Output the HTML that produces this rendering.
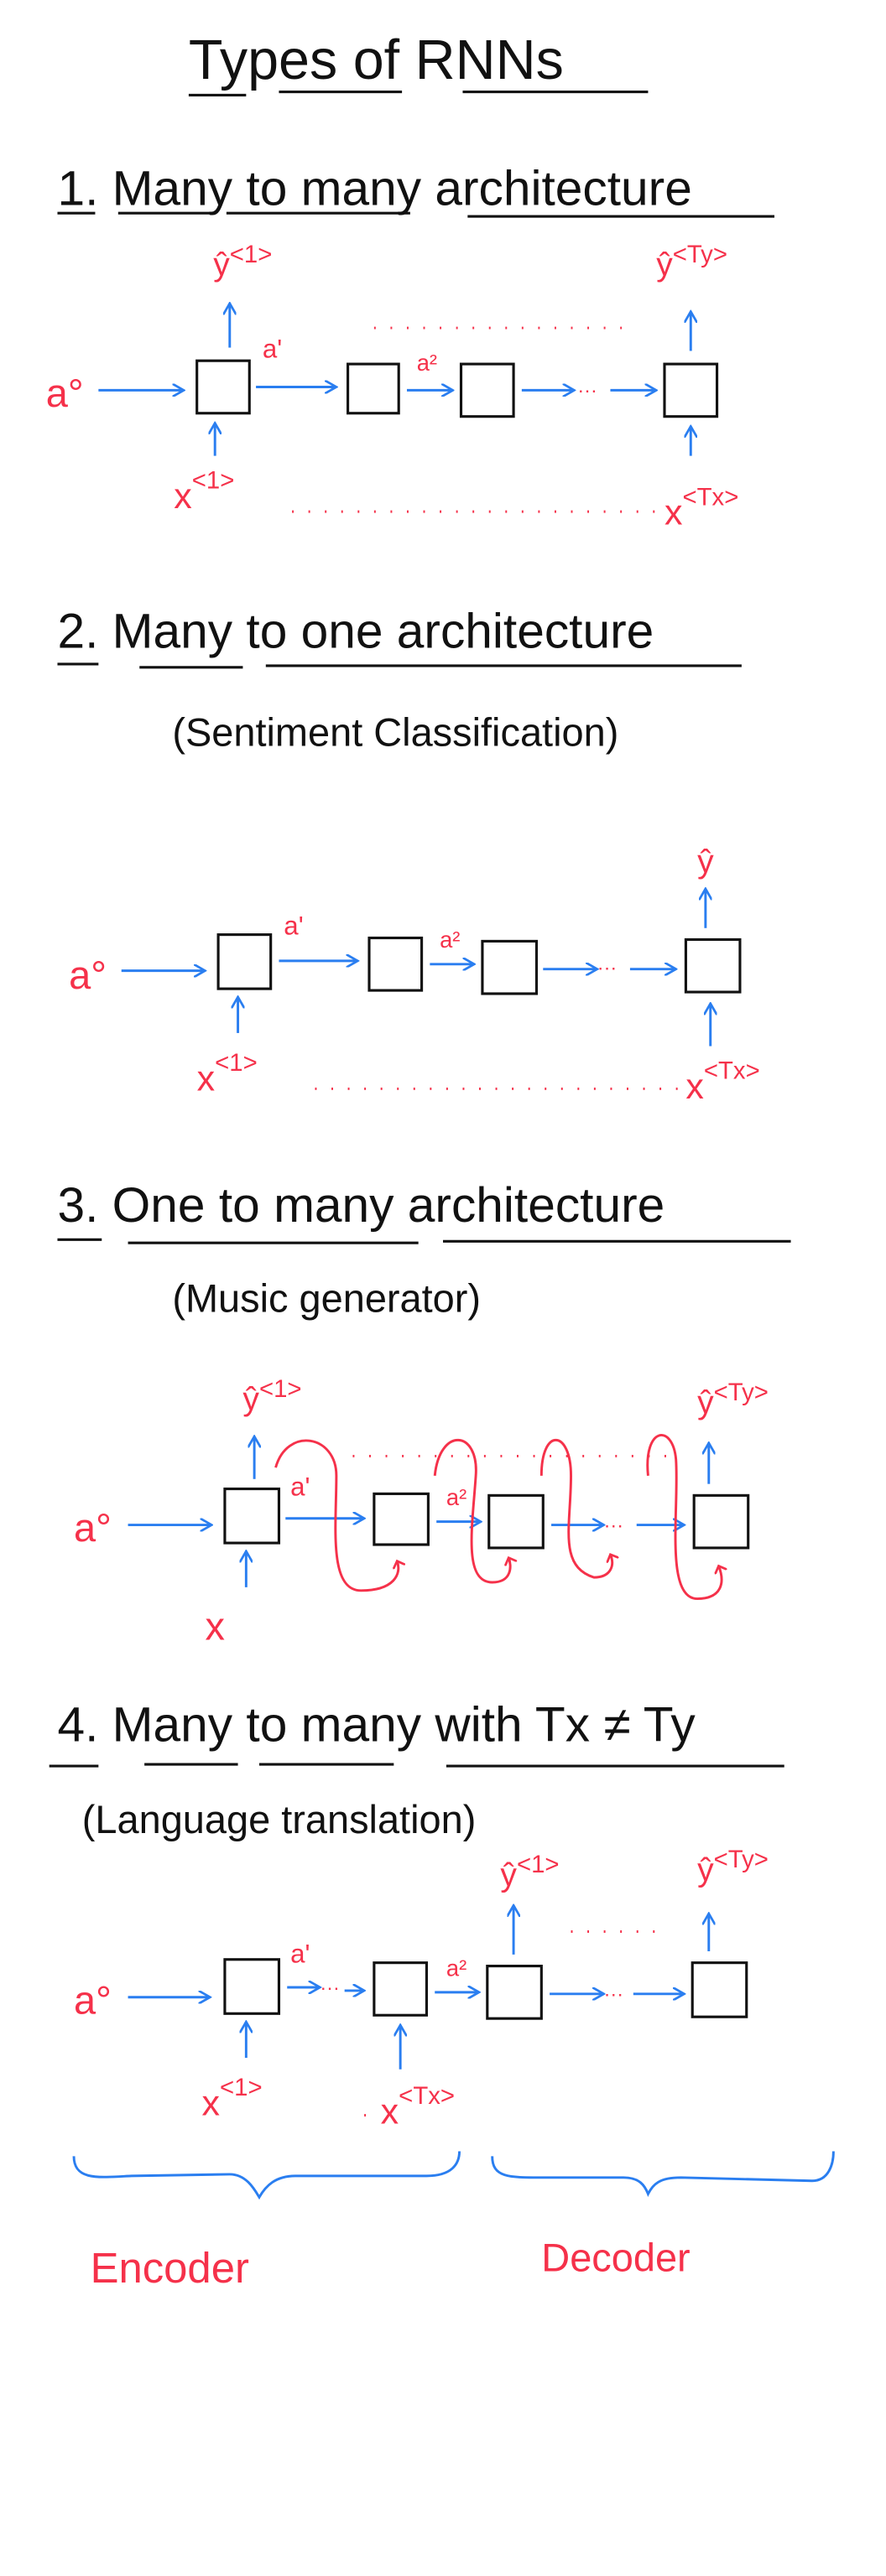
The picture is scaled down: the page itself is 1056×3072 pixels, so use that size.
<!DOCTYPE html>
<html><head><meta charset="utf-8"><style>
html,body{margin:0;padding:0;background:#fff}
svg{display:block}
.t{font-family:"Liberation Sans",sans-serif;fill:#111;font-weight:300}
.r{font-family:"Liberation Sans",sans-serif;fill:#f5314a}
.blk{stroke:#111;stroke-width:1.6;fill:none}
.box{stroke:#111;stroke-width:1.6;fill:#fff}
.bl{stroke:#2a7ef0;stroke-width:1.5;fill:none}
.rd{stroke:#f5314a;stroke-width:1.5;fill:none}
.dot{stroke:#f5314a;stroke-width:1.5;stroke-dasharray:1 9;fill:none}
</style></head><body>
<svg width="1056" height="3072" viewBox="0 0 540 1571" xmlns="http://www.w3.org/2000/svg">
<defs><marker id="ah" markerWidth="8" markerHeight="8" refX="7" refY="4" orient="auto" markerUnits="userSpaceOnUse"><path d="M0,0 L7,4 L0,8" fill="none" stroke="#2a7ef0" stroke-width="1.4"/></marker>
<marker id="rh" markerWidth="8" markerHeight="8" refX="4" refY="4" orient="auto" markerUnits="userSpaceOnUse"><path d="M0,0 L4,4 L0,8" fill="none" stroke="#f5314a" stroke-width="1.4"/></marker></defs>

<g>
<text class="t" x="115" y="48" font-size="34">Types  of  RNNs</text>
<path class="blk" d="M115 58 H150 M170 56 H245 M282 56 H395"/>
</g>

<!-- Section 1 -->
<g>
<text class="t" x="35" y="125" font-size="30">1. Many  to many  architecture</text>
<path class="blk" d="M35 130 H58 M72 130 H128 M138 130 H250 M285 132 H472"/>
<g>
<text class="r" x="28" y="248" font-size="24">a°</text>
<path class="bl" d="M60 238 H112" marker-end="url(#ah)"/>
<rect class="box" x="120" y="220" width="32" height="32"/>
<rect class="box" x="212" y="222" width="31" height="30"/>
<rect class="box" x="281" y="222" width="32" height="32"/>
<rect class="box" x="405" y="222" width="32" height="32"/>
<path class="bl" d="M156 236 H205" marker-end="url(#ah)"/>
<path class="bl" d="M248 238 H276" marker-end="url(#ah)"/>
<path class="bl" d="M318 238 H350" marker-end="url(#ah)"/>
<path class="bl" d="M372 238 H400" marker-end="url(#ah)"/>
<text class="r" x="352" y="242" font-size="12">···</text>
<text class="r" x="160" y="218" font-size="16">a'</text>
<text class="r" x="254" y="226" font-size="14">a²</text>
<path class="bl" d="M140 212 V185" marker-end="url(#ah)"/>
<path class="bl" d="M421 214 V190" marker-end="url(#ah)"/>
<path class="bl" d="M131 278 V258" marker-end="url(#ah)"/>
<path class="bl" d="M421 278 V260" marker-end="url(#ah)"/>
<text class="r" x="130" y="168" font-size="20">ŷ<tspan font-size="15" dy="-8">&lt;1&gt;</tspan></text>
<text class="r" x="400" y="168" font-size="20">ŷ<tspan font-size="15" dy="-8">&lt;Ty&gt;</tspan></text>
<text class="r" x="106" y="310" font-size="22">x<tspan font-size="15" dy="-12">&lt;1&gt;</tspan></text>
<text class="r" x="405" y="320" font-size="22">x<tspan font-size="15" dy="-12">&lt;Tx&gt;</tspan></text>
<path class="dot" d="M228 200 H388"/>
<path class="dot" d="M178 312 H400"/>
</g></g>

<!-- Section 2 -->
<g>
<text class="t" x="35" y="395" font-size="30">2. Many  to one architecture</text>
<path class="blk" d="M35 405 H60 M85 407 H148 M162 406 H452"/>
<text class="t" x="105" y="455" font-size="24">(Sentiment Classification)</text>
<g>
<text class="r" x="42" y="603" font-size="24">a°</text>
<path class="bl" d="M74 592 H125" marker-end="url(#ah)"/>
<rect class="box" x="133" y="570" width="32" height="33"/>
<rect class="box" x="225" y="572" width="32" height="32"/>
<rect class="box" x="294" y="574" width="33" height="32"/>
<rect class="box" x="418" y="573" width="33" height="32"/>
<path class="bl" d="M170 586 H218" marker-end="url(#ah)"/>
<path class="bl" d="M262 588 H289" marker-end="url(#ah)"/>
<path class="bl" d="M331 591 H364" marker-end="url(#ah)"/>
<path class="bl" d="M384 591 H412" marker-end="url(#ah)"/>
<text class="r" x="364" y="594" font-size="12">···</text>
<text class="r" x="173" y="570" font-size="16">a'</text>
<text class="r" x="268" y="578" font-size="14">a²</text>
<path class="bl" d="M145 630 V608" marker-end="url(#ah)"/>
<path class="bl" d="M433 638 V612" marker-end="url(#ah)"/>
<path class="bl" d="M430 566 V542" marker-end="url(#ah)"/>
<text class="r" x="425" y="532" font-size="20">ŷ</text>
<text class="r" x="120" y="665" font-size="22">x<tspan font-size="15" dy="-12">&lt;1&gt;</tspan></text>
<text class="r" x="418" y="670" font-size="22">x<tspan font-size="15" dy="-12">&lt;Tx&gt;</tspan></text>
<path class="dot" d="M192 664 H415"/>
</g></g>

<!-- Section 3 -->
<g>
<text class="t" x="35" y="745" font-size="30">3. One  to many  architecture</text>
<path class="blk" d="M35 756 H62 M78 758 H255 M270 757 H482"/>
<text class="t" x="105" y="800" font-size="24">(Music generator)</text>
<g>
<text class="r" x="45" y="940" font-size="24">a°</text>
<path class="bl" d="M78 930 H129" marker-end="url(#ah)"/>
<rect class="box" x="137" y="908" width="33" height="33"/>
<rect class="box" x="228" y="911" width="33" height="31"/>
<rect class="box" x="298" y="912" width="33" height="32"/>
<rect class="box" x="423" y="912" width="33" height="32"/>
<path class="bl" d="M174 926 H222" marker-end="url(#ah)"/>
<path class="bl" d="M266 928 H293" marker-end="url(#ah)"/>
<path class="bl" d="M336 930 H368" marker-end="url(#ah)"/>
<path class="bl" d="M388 930 H417" marker-end="url(#ah)"/>
<text class="r" x="368" y="934" font-size="12">···</text>
<text class="r" x="177" y="912" font-size="16">a'</text>
<text class="r" x="272" y="918" font-size="14">a²</text>
<path class="bl" d="M155 902 V876" marker-end="url(#ah)"/>
<path class="bl" d="M432 905 V880" marker-end="url(#ah)"/>
<path class="bl" d="M150 968 V946" marker-end="url(#ah)"/>
<text class="r" x="148" y="860" font-size="20">ŷ<tspan font-size="15" dy="-8">&lt;1&gt;</tspan></text>
<text class="r" x="425" y="862" font-size="20">ŷ<tspan font-size="15" dy="-8">&lt;Ty&gt;</tspan></text>
<text class="r" x="125" y="1000" font-size="24">x</text>
<path class="dot" d="M215 888 H410"/>
<path class="rd" d="M168 895 C175 870,205 875,205 900 C205 930,200 970,220 970 C240 970,245 960,242 952" marker-end="url(#rh)"/>
<path class="rd" d="M265 900 C268 870,292 872,290 900 C288 930,282 965,300 965 C312 965,312 955,310 950" marker-end="url(#rh)"/>
<path class="rd" d="M330 900 C330 870,348 872,348 900 C348 930,340 955,362 962 C372 962,375 955,372 948" marker-end="url(#rh)"/>
<path class="rd" d="M395 900 C392 870,410 868,412 890 C414 920,405 975,425 975 C440 975,442 965,438 955" marker-end="url(#rh)"/>
</g></g>

<!-- Section 4 -->
<g>
<text class="t" x="35" y="1062" font-size="30">4. Many  to many  with  Tx ≠ Ty</text>
<path class="blk" d="M30 1077 H60 M88 1076 H145 M158 1076 H240 M272 1077 H478"/>
<text class="t" x="50" y="1118" font-size="24">(Language translation)</text>
<g>
<text class="r" x="45" y="1228" font-size="24">a°</text>
<path class="bl" d="M78 1218 H128" marker-end="url(#ah)"/>
<rect class="box" x="137" y="1195" width="33" height="33"/>
<rect class="box" x="228" y="1197" width="32" height="32"/>
<rect class="box" x="297" y="1199" width="33" height="32"/>
<rect class="box" x="422" y="1197" width="33" height="33"/>
<path class="bl" d="M175 1212 H195" marker-end="url(#ah)"/>
<text class="r" x="195" y="1216" font-size="12">···</text>
<path class="bl" d="M210 1214 H222" marker-end="url(#ah)"/>
<path class="bl" d="M265 1215 H292" marker-end="url(#ah)"/>
<path class="bl" d="M335 1216 H368" marker-end="url(#ah)"/>
<text class="r" x="368" y="1220" font-size="12">···</text>
<path class="bl" d="M386 1216 H417" marker-end="url(#ah)"/>
<text class="r" x="177" y="1197" font-size="16">a'</text>
<text class="r" x="272" y="1205" font-size="14">a²</text>
<path class="bl" d="M150 1255 V1233" marker-end="url(#ah)"/>
<path class="bl" d="M244 1262 V1235" marker-end="url(#ah)"/>
<path class="bl" d="M313 1192 V1162" marker-end="url(#ah)"/>
<path class="bl" d="M432 1190 V1167" marker-end="url(#ah)"/>
<text class="r" x="305" y="1150" font-size="20">ŷ<tspan font-size="15" dy="-8">&lt;1&gt;</tspan></text>
<text class="r" x="425" y="1147" font-size="20">ŷ<tspan font-size="15" dy="-8">&lt;Ty&gt;</tspan></text>
<text class="r" x="123" y="1290" font-size="22">x<tspan font-size="15" dy="-12">&lt;1&gt;</tspan></text>
<text class="r" x="232" y="1295" font-size="22">x<tspan font-size="15" dy="-12">&lt;Tx&gt;</tspan></text>
<path class="dot" d="M348 1178 H405"/>
<path class="dot" d="M222 1290 H232"/>
<path class="bl" d="M45 1315 C45 1330,60 1328,80 1327 L140 1326 C150 1326,155 1335,158 1340 C162 1333,168 1327,180 1327 L260 1327 C275 1327,280 1320,280 1312"/>
<path class="bl" d="M300 1315 C300 1328,310 1328,330 1328 L380 1328 C390 1328,393 1333,395 1338 C398 1332,402 1328,415 1328 L495 1330 C505 1330,508 1320,508 1312"/>
<text class="r" x="55" y="1392" font-size="26">Encoder</text>
<text class="r" x="330" y="1385" font-size="24">Decoder</text>
</g></g>
</svg>
</body></html>
